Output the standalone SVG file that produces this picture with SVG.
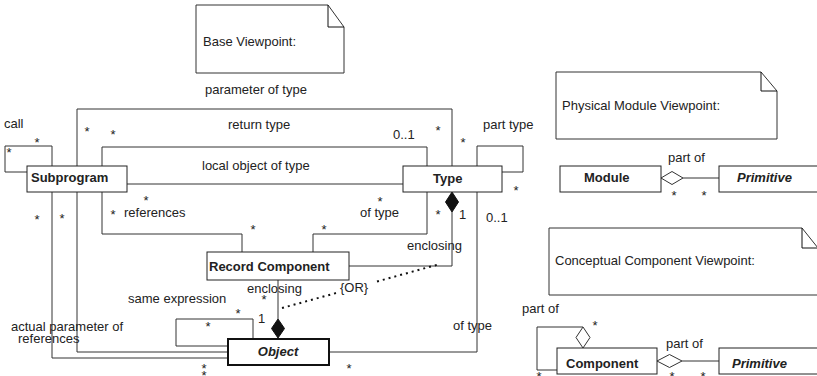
<svg xmlns="http://www.w3.org/2000/svg" width="817" height="376" viewBox="0 0 817 376">
<style>
text{font-family:"Liberation Sans",Arial,sans-serif;font-size:13px;fill:#222}
.b{font-weight:bold}
.bi{font-weight:bold;font-style:italic}
.box{fill:#fff;stroke:#222;stroke-width:1}
.obj{fill:#fff;stroke:#111;stroke-width:2}
.note{fill:#fff;stroke:#333;stroke-width:1}
.c{fill:none;stroke:#333;stroke-width:1}
.dot{fill:none;stroke:#111;stroke-width:2;stroke-dasharray:2 4}
.fd{fill:#111;stroke:#111}
.hd{fill:#fff;stroke:#333}
.m{font-size:13px}
</style>
<rect width="817" height="376" fill="#fff"/>
<g id="connectors">
<polyline class="c" points="228,352 77,352 77,109 452,109 452,166"/>
<polyline class="c" points="228,358 52,358 52,192"/>
<polyline class="c" points="52,166 52,146 5,146 5,172 27,172"/>
<polyline class="c" points="102,166 102,147 427,147 427,166"/>
<line class="c" x1="127" y1="184" x2="403" y2="184"/>
<polyline class="c" points="102,192 102,234 242,234 242,252"/>
<polyline class="c" points="313,252 313,234 427,234 427,192"/>
<polyline class="c" points="477,166 477,146 523,146 523,172 502,172"/>
<polyline class="c" points="349,266 452,266 452,212"/>
<polygon class="fd" points="452,192 458.5,202 452,212 445.5,202"/>
<polyline class="c" points="329,352 477,352 477,192"/>
<polyline class="c" points="253,338 253,319 176,319 176,346 228,346"/>
<line class="c" x1="278" y1="280" x2="278" y2="319"/>
<polygon class="fd" points="278,319 284.5,328.5 278,338 271.5,328.5"/>
<line class="dot" x1="282" y1="308" x2="338" y2="292.5"/>
<line class="dot" x1="377" y1="281.5" x2="440" y2="264"/>
<line class="c" x1="683" y1="178" x2="719" y2="178"/>
<polygon class="hd" points="661,178 672,171.5 683,178 672,184.5"/>
<line class="c" x1="682" y1="361" x2="719" y2="361"/>
<polygon class="hd" points="657,361 669.5,354.5 682,361 669.5,367.5"/>
<polyline class="c" points="557,370 537,370 537,327 583,327"/>
<polygon class="hd" points="583,327 590,337.5 583,348 576,337.5"/>
</g>
<g id="note-base">
<path class="note" d="M196,5 H328 L344,27 V73 H196 Z"/>
<polyline class="c" points="328,5 328,27 344,27" style="stroke:#111"/>
<text x="203" y="46">Base Viewpoint:</text>
</g>
<g id="note-physical">
<path class="note" d="M556,72 H761 L777,91 V139 H556 Z"/>
<polyline class="c" points="761,72 761,91 777,91" style="stroke:#111"/>
<text x="562" y="110">Physical Module Viewpoint:</text>
</g>
<g id="note-conceptual">
<path class="note" d="M549,228 H802 L818,248 V295 H549 Z"/>
<polyline class="c" points="802,228 802,248 818,248" style="stroke:#111"/>
<text x="555" y="265">Conceptual Component Viewpoint:</text>
</g>
<g id="subprogram">
<rect class="box" x="27" y="166" width="100" height="26"/>
<text class="b" x="31" y="182">Subprogram</text>
</g>
<g id="type">
<rect class="box" x="403" y="166" width="99" height="26"/>
<text class="b" x="433" y="183">Type</text>
</g>
<g id="record-component">
<rect class="box" x="207" y="252" width="142" height="28"/>
<text class="b" x="209" y="271">Record Component</text>
</g>
<g id="object">
<rect class="obj" x="228" y="339" width="101" height="26"/>
<text class="bi" x="278" y="356" text-anchor="middle">Object</text>
</g>
<g id="module">
<rect class="box" x="560" y="166" width="101" height="26"/>
<text class="b" x="584" y="182">Module</text>
</g>
<g id="primitive-1">
<rect class="box" x="719" y="166" width="100" height="26"/>
<text class="bi" x="737" y="182">Primitive</text>
</g>
<g id="component">
<rect class="box" x="557" y="348" width="100" height="26"/>
<text class="b" x="566" y="368">Component</text>
</g>
<g id="primitive-2">
<rect class="box" x="719" y="348" width="100" height="26"/>
<text class="bi" x="732" y="368">Primitive</text>
</g>
<g id="labels">
<text x="205" y="94">parameter of type</text>
<text x="4" y="128">call</text>
<text x="228" y="129">return type</text>
<text x="393" y="139">0..1</text>
<text x="202" y="170">local object of type</text>
<text x="124" y="217">references</text>
<text x="360" y="217">of type</text>
<text x="483" y="129">part type</text>
<text x="459" y="219">1</text>
<text x="486" y="222">0..1</text>
<text x="407" y="250">enclosing</text>
<text x="247" y="293">enclosing</text>
<text x="340" y="292">{OR}</text>
<text x="128" y="303">same expression</text>
<text x="258" y="323">1</text>
<text x="11" y="331">actual parameter of</text>
<text x="18" y="343">references</text>
<text x="453" y="330">of type</text>
<text x="668" y="162">part of</text>
<text x="522" y="313">part of</text>
<text x="666" y="348">part of</text>
</g>
<g id="multiplicities" text-anchor="middle">
<text x="37" y="147">*</text>
<text x="9" y="157">*</text>
<text x="87" y="136">*</text>
<text x="113" y="139">*</text>
<text x="37" y="224">*</text>
<text x="62" y="223">*</text>
<text x="113" y="219">*</text>
<text x="146" y="205">*</text>
<text x="438" y="135">*</text>
<text x="463" y="147">*</text>
<text x="516" y="195">*</text>
<text x="380" y="206">*</text>
<text x="438" y="219">*</text>
<text x="253" y="234">*</text>
<text x="324" y="234">*</text>
<text x="264" y="304">*</text>
<text x="208" y="331">*</text>
<text x="238" y="318">*</text>
<text x="204" y="373">*</text>
<text x="204" y="380">*</text>
<text x="349" y="373">*</text>
<text x="674" y="200">*</text>
<text x="704" y="200">*</text>
<text x="595" y="330">*</text>
<text x="539" y="381">*</text>
<text x="672" y="381">*</text>
<text x="703" y="381">*</text>
</g>
</svg>
